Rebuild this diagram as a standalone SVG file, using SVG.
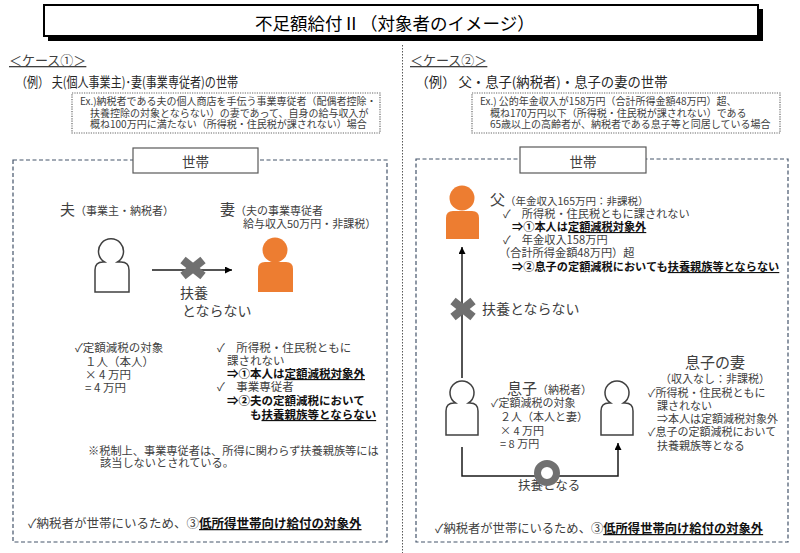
<svg xmlns="http://www.w3.org/2000/svg" width="800" height="553" viewBox="0 0 800 553">
<defs>
<style>
text{font-family:"Noto Sans CJK JP","Noto Sans",sans-serif;fill:#404040}
.b{font-weight:bold;fill:#111}
.u{text-decoration:underline}
.h{fill:#262626}
.frame{fill:none;stroke:#44546A;stroke-width:1.2;stroke-dasharray:4 2.5}
.ex{fill:#fff;stroke:#666;stroke-width:1.2;stroke-dasharray:1.2 1.2}
.tag{fill:#fff;stroke:#595959;stroke-width:1.2}
.out{fill:#fff;stroke:#404040;stroke-width:1.5}
.org{fill:#ED7D31}
.xm{stroke:#707070;stroke-width:8.5}
.ln{fill:none;stroke:#1a1a1a;stroke-width:1.5}
</style>
<marker id="ah" viewBox="0 0 10 10" refX="10" refY="5" markerWidth="7" markerHeight="7" markerUnits="userSpaceOnUse" orient="auto"><path d="M0,0L10,5L0,10z" fill="#000"/></marker>
<g id="xmark"><line x1="-10" y1="-8" x2="10" y2="8"/><line x1="-10" y1="8" x2="10" y2="-8"/></g>
</defs>
<rect width="800" height="553" fill="#fff"/>

<g id="title">
<rect x="48" y="9" width="715" height="32" fill="#000"/>
<rect x="44" y="5" width="714" height="31" fill="#fff" stroke="#000" stroke-width="2"/>
<text x="255" y="29.5" font-size="17.5" style="fill:#000">不足額給付Ⅱ（対象者のイメージ）</text>
</g>

<line x1="402.5" y1="45" x2="402.5" y2="553" stroke="#595959" stroke-width="1" stroke-dasharray="1.5 1.5"/>

<g id="case1-header">
<text x="9" y="65" font-size="13" class="u">＜ケース①＞</text>
<text x="16" y="87" font-size="13.5" class="h" textLength="222" lengthAdjust="spacingAndGlyphs">（例） 夫(個人事業主)･妻(事業専従者)の世帯</text>
<rect x="72" y="93" width="308" height="40" class="ex"/>
<text font-size="10"><tspan x="80" y="104.5">Ex.)納税者である夫の個人商店を手伝う事業専従者（配偶者控除・</tspan><tspan x="90" y="116.5">扶養控除の対象とならない）の妻であって、自身の給与収入が</tspan><tspan x="90" y="128">概ね100万円に満たない（所得税・住民税が課されない）場合</tspan></text>
</g>

<g id="case2-header">
<text x="410" y="65" font-size="13" class="u">＜ケース②＞</text>
<text x="415.5" y="87" font-size="13.5" class="h" textLength="252" lengthAdjust="spacingAndGlyphs">（例） 父・息子(納税者)・息子の妻の世帯</text>
<rect x="472" y="93" width="308" height="40" class="ex"/>
<text font-size="10"><tspan x="480" y="104.5">Ex.) 公的年金収入が158万円（合計所得金額48万円）超、</tspan><tspan x="490" y="116.5">概ね170万円以下（所得税・住民税が課されない）である</tspan><tspan x="490" y="128">65歳以上の高齢者が、納税者である息子等と同居している場合</tspan></text>
</g>

<g id="household1">
<rect x="13" y="160" width="374" height="382" class="frame"/>
<rect x="133" y="148" width="125" height="25" class="tag"/>
<text x="195.5" y="166.5" font-size="13.5" text-anchor="middle">世帯</text>
</g>

<g id="household2">
<rect x="416" y="159" width="372" height="383" class="frame"/>
<rect x="520" y="147" width="126" height="26" class="tag"/>
<text x="583" y="166.5" font-size="13.5" text-anchor="middle">世帯</text>
</g>

<g id="connectors">
<line x1="152" y1="270" x2="232" y2="270" class="ln" marker-end="url(#ah)"/>
<use href="#xmark" x="193" y="268" class="xm"/>
<line x1="462" y1="378" x2="462" y2="247" class="ln" stroke-width="2" marker-end="url(#ah)"/>
<use href="#xmark" x="463" y="309" class="xm"/>
<path d="M462,447V476H618V443" class="ln" marker-end="url(#ah)"/>
</g>

<g id="husband">
<path d="M95,292V270Q95,262 103,262H104.5A12.5,12.5 0 1 1 117.5,262H121Q129,262 129,270V292Z" class="out"/>
<text x="60" y="215"><tspan font-size="15">夫</tspan><tspan font-size="11">（事業主・納税者）</tspan></text>
</g>

<g id="wife">
<circle cx="275" cy="250" r="12.5" class="org"/>
<path d="M258,292V269Q258,262 265,262H286Q293,262 293,269V292Z" class="org"/>
<text><tspan x="220" y="215" font-size="15">妻</tspan><tspan font-size="11">（夫の事業専従者</tspan><tspan x="243" y="228" font-size="11">給与収入50万円・非課税）</tspan></text>
</g>

<g id="label-no-dependent1">
<text font-size="14"><tspan x="180" y="298">扶養</tspan><tspan x="182" y="316">とならない</tspan></text>
</g>

<g id="case1-notes">
<text font-size="11.5"><tspan x="75" y="352">✓定額減税の対象</tspan><tspan x="85" y="366">１人（本人）</tspan><tspan x="85" y="379">× 4 万円</tspan><tspan x="85" y="392">= 4 万円</tspan></text>
<text font-size="11.5"><tspan x="217" y="352">✓　所得税・住民税ともに</tspan><tspan x="227" y="365">課されない</tspan><tspan x="227" y="378" class="b">⇒①本人は<tspan class="u">定額減税対象外</tspan></tspan><tspan x="217" y="391">✓　事業専従者</tspan><tspan x="227" y="405" class="b">⇒②夫の定額減税において</tspan><tspan x="250" y="419" class="b">も<tspan class="u">扶養親族等とならない</tspan></tspan></text>
<text font-size="11.2"><tspan x="88" y="455">※税制上、事業専従者は、所得に関わらず扶養親族等には</tspan><tspan x="100" y="467">該当しないとされている。</tspan></text>
<text x="28" y="528" font-size="12.5">✓納税者が世帯にいるため、③<tspan class="b u">低所得世帯向け給付の対象外</tspan></text>
</g>

<g id="father">
<circle cx="462" cy="198" r="12.5" class="org"/>
<path d="M446,239V218Q446,211 453,211H472Q479,211 479,218V239Z" class="org"/>
<text font-size="11.2"><tspan x="490" y="205" font-size="15">父</tspan><tspan font-size="10.5">（年金収入165万円：非課税）</tspan><tspan x="503" y="218">✓　所得税・住民税ともに課されない</tspan><tspan x="512" y="231" class="b">⇒①本人は<tspan class="u">定額減税対象外</tspan></tspan><tspan x="503" y="244">✓　年金収入158万円</tspan><tspan x="499" y="257">（合計所得金額48万円）超</tspan><tspan x="512" y="271" class="b">⇒②息子の定額減税においても<tspan class="u">扶養親族等とならない</tspan></tspan></text>
</g>

<g id="label-no-dependent2">
<text x="482" y="314" font-size="14">扶養とならない</text>
</g>

<g id="son">
<path d="M446,435V411Q446,403 454,403H455.5A12,12 0 1 1 468.5,403H470Q478,403 478,411V435Z" class="out"/>
<text font-size="11"><tspan x="507" y="394" font-size="15">息子</tspan><tspan>（納税者）</tspan><tspan x="491" y="407">✓定額減税の対象</tspan><tspan x="500" y="421">２人（本人と妻）</tspan><tspan x="500" y="435">× 4 万円</tspan><tspan x="500" y="448">= 8 万円</tspan></text>
</g>

<g id="son-wife">
<path d="M601,435V411Q601,403 609,403H610.5A12,12 0 1 1 623.5,403H625Q633,403 633,411V435Z" class="out"/>
<text text-anchor="middle"><tspan x="715" y="368" font-size="15">息子の妻</tspan><tspan x="715" y="383" font-size="11">（収入なし：非課税）</tspan></text>
<text font-size="11"><tspan x="648" y="397">✓所得税・住民税ともに</tspan><tspan x="657" y="410">課されない</tspan><tspan x="657" y="423">⇒本人は定額減税対象外</tspan><tspan x="648" y="436">✓息子の定額減税において</tspan><tspan x="657" y="450">扶養親族等となる</tspan></text>
</g>

<g id="label-dependent">
<text x="518" y="490" font-size="12.5">扶養となる</text>
<circle cx="547" cy="473" r="9.5" fill="#fff" stroke="#707070" stroke-width="7"/>
</g>

<g id="case2-footer">
<text x="435" y="533" font-size="12.3">✓納税者が世帯にいるため、③<tspan class="b u">低所得世帯向け給付の対象外</tspan></text>
</g>
</svg>
